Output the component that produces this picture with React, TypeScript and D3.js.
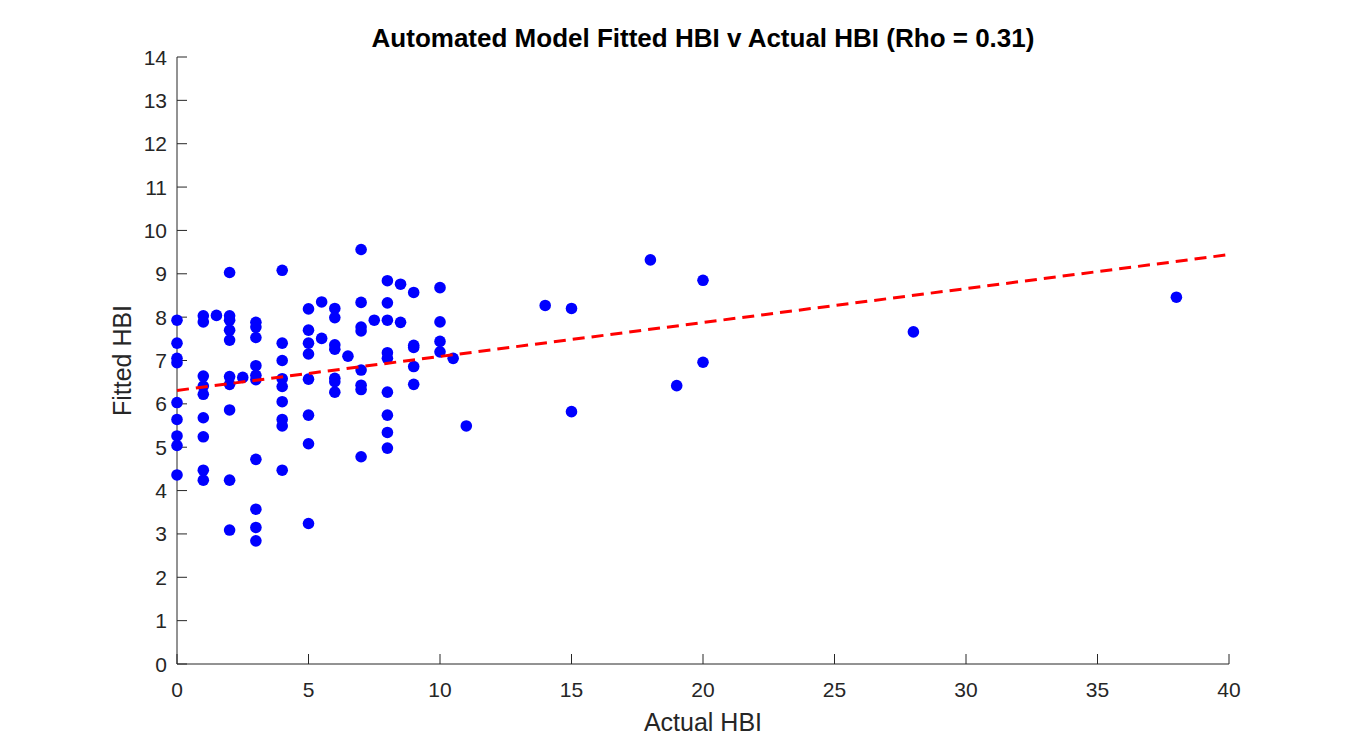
import React from "react";
import * as d3 from "d3";

// Actual HBI (x) values for each observation
const actualHBI: number[] = [
  0, 0, 0, 0, 0, 0, 0, 0, 0,
  1, 1, 1, 1, 1, 1, 1, 1, 1,
  1.5,
  2, 2, 2, 2, 2, 2, 2, 2, 2, 2,
  2.5,
  3, 3, 3, 3, 3, 3, 3, 3, 3, 3,
  4, 4, 4, 4, 4, 4, 4, 4, 4,
  5, 5, 5, 5, 5, 5, 5, 5,
  5.5, 5.5,
  6, 6, 6, 6, 6, 6, 6,
  6.5,
  7, 7, 7, 7, 7, 7, 7, 7,
  7.5,
  8, 8, 8, 8, 8, 8, 8, 8, 8,
  8.5, 8.5,
  9, 9, 9, 9, 9,
  10, 10, 10, 10,
  10.5, 11, 14, 15, 15, 18, 19, 20, 20, 28, 38,
];

// Fitted HBI (y) values, same order
const fittedHBI: number[] = [
  7.93, 7.40, 7.05, 6.95, 6.03, 5.64, 5.26, 5.04, 4.36,
  8.03, 7.89, 6.64, 6.41, 6.22, 5.68, 5.24, 4.47, 4.24,
  8.04,
  9.03, 8.03, 7.93, 7.70, 7.47, 6.63, 6.45, 5.86, 4.24, 3.09,
  6.61,
  7.88, 7.77, 7.53, 6.88, 6.66, 6.56, 4.72, 3.57, 3.15, 2.84,
  9.08, 7.40, 7.00, 6.58, 6.40, 6.05, 5.64, 5.49, 4.47,
  8.19, 7.70, 7.40, 7.15, 6.57, 5.74, 5.08, 3.24,
  8.35, 7.51,
  8.20, 7.99, 7.36, 7.26, 6.59, 6.51, 6.27,
  7.10,
  9.56, 8.34, 7.77, 7.68, 6.78, 6.43, 6.33, 4.78,
  7.93,
  8.84, 8.33, 7.93, 7.18, 7.05, 6.27, 5.74, 5.34, 4.98,
  8.76, 7.88,
  8.57, 7.35, 7.30, 6.86, 6.45,
  8.68, 7.89, 7.44, 7.20,
  7.05, 5.49, 8.27, 8.20, 5.82, 9.32, 6.42, 8.85, 6.96, 7.66, 8.46,
];

// Fitted regression line
const fitIntercept = 6.31;
const fitSlope = 0.0783;

const xTicks: number[] = [0, 5, 10, 15, 20, 25, 30, 35, 40];
const yTicks: number[] = [0, 1, 2, 3, 4, 5, 6, 7, 8, 9, 10, 11, 12, 13, 14];

const titleText = "Automated Model Fitted HBI v Actual HBI (Rho = 0.31)";
const xLabel = "Actual HBI";
const yLabel = "Fitted HBI";

export default function App() {
  const W = 1360, H = 746;
  const left = 177, right = 1229, top = 57, bottom = 664;
  const x = d3.scaleLinear().domain([0, 40]).range([left, right]);
  const y = d3.scaleLinear().domain([0, 14]).range([bottom, top]);
  const axisColor = "#262626";
  const font = "'Liberation Sans', Arial, Helvetica, sans-serif";
  const tickLen = 10;

  const lineGen = d3.line<number>().x((d) => x(d)).y((d) => y(fitIntercept + fitSlope * d));
  const pts = actualHBI.map((v, i) => ({ a: v, f: fittedHBI[i] }));

  return (
    <svg
      width={W}
      height={H}
      style={{ position: "absolute", left: 0, top: 0, background: "#fff" }}
    >
      <rect x={0} y={0} width={W} height={H} fill="#fff" />
      {/* axes */}
      <line x1={left} y1={top} x2={left} y2={bottom} stroke={axisColor} strokeWidth={1} />
      <line x1={left} y1={bottom} x2={right} y2={bottom} stroke={axisColor} strokeWidth={1} />
      {yTicks.map((t) => (
        <g key={"y" + t}>
          <line x1={left} x2={left + tickLen} y1={y(t)} y2={y(t)} stroke={axisColor} />
          <text
            x={left - 10}
            y={y(t)}
            dy="0.36em"
            textAnchor="end"
            fontFamily={font}
            fontSize={21}
            fill={axisColor}
          >
            {t}
          </text>
        </g>
      ))}
      {xTicks.map((t) => (
        <g key={"x" + t}>
          <line x1={x(t)} x2={x(t)} y1={bottom} y2={bottom - tickLen} stroke={axisColor} />
          <text
            x={x(t)}
            y={bottom + 33}
            textAnchor="middle"
            fontFamily={font}
            fontSize={21}
            fill={axisColor}
          >
            {t}
          </text>
        </g>
      ))}
      {/* points */}
      {pts.map((p, i) => (
        <circle key={i} cx={x(p.a)} cy={y(p.f)} r={5.8} fill="#0000ff" />
      ))}
      {/* fit line */}
      <path
        d={lineGen([0, 40]) || ""}
        fill="none"
        stroke="#ff0000"
        strokeWidth={3}
        strokeDasharray="12,7"
      />
      {/* labels */}
      <text
        x={(left + right) / 2}
        y={47}
        textAnchor="middle"
        fontFamily={font}
        fontWeight="bold"
        fontSize={26}
        fill="#000"
      >
        {titleText}
      </text>
      <text
        x={(left + right) / 2}
        y={731}
        textAnchor="middle"
        fontFamily={font}
        fontSize={25}
        fill={axisColor}
      >
        {xLabel}
      </text>
      <text
        transform={`translate(131, ${(top + bottom) / 2}) rotate(-90)`}
        textAnchor="middle"
        fontFamily={font}
        fontSize={25}
        fill={axisColor}
      >
        {yLabel}
      </text>
    </svg>
  );
}
